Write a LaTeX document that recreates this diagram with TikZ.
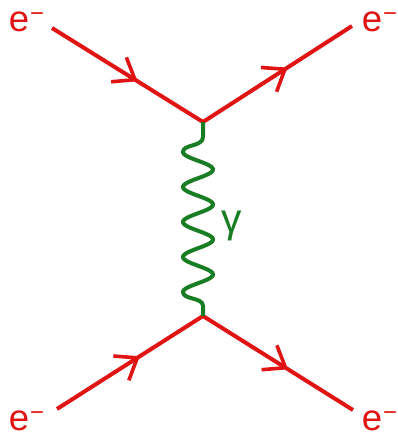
\documentclass[tikz,border=0pt]{standalone}
\usepackage{fontspec}
\setmainfont{Liberation Sans}
\usetikzlibrary{arrows.meta, decorations.markings}

\newcommand{\elabel}{e\kern0.03em\raisebox{0.28em}{\fontsize{17}{17}\selectfont −}}

\begin{document}
\begin{tikzpicture}[x=0.025cm, y=-0.025cm,
    fermion/.style={line width=0.1cm, elec, postaction={decorate},
        decoration={markings, mark=at position 0.55 with {\draw[line width=0.09cm] (-0.48cm,0.36cm) -- (0,0) -- (-0.48cm,-0.36cm);}}},
    photon/.style={line width=0.1cm, phot, line join=round},
    lbl/.style={inner sep=0pt, anchor=base west, font=\fontsize{26}{26}\selectfont}]
    % Colores
    \definecolor{elec}{RGB}{225,20,20}
    \definecolor{phot}{RGB}{25,125,35}

    \useasboundingbox (0,0) rectangle (397,433);

    % Vertices
    \coordinate (vtop) at (203,122);
    \coordinate (vbot) at (203,316);

    % Extremos de las lineas
    \coordinate (inA) at (52,28);
    \coordinate (outA) at (352,26);
    \coordinate (inB) at (57,409);
    \coordinate (outB) at (353,410);

    % Etiquetas
    \node[lbl, elec] (eTL) at (8.5,31.5) {\elabel};
    \node[lbl, elec] (eTR) at (361.5,31.5) {\elabel};
    \node[lbl, elec] (eBL) at (8.5,430.5) {\elabel};
    \node[lbl, elec] (eBR) at (361.5,430.5) {\elabel};
    \node[phot, inner sep=0pt, font=\fontsize{29}{29}\selectfont] (gam) at (232,226) {γ};

    % Electrones
    \draw[fermion] (inA) -- (vtop);
    \draw[fermion] (vtop) -- (outA);
    \draw[fermion] (inB) -- (vbot);
    \draw[fermion] (vbot) -- (outB);

    % Foton
    \draw[photon] (vtop) -- (203,137) .. controls (203,147) and (183,144) .. (183,152)
        -- plot[domain=0:1440, samples=145, variable=\p] ({198-15*cos(\p)}, {152+\p/360*35})
        .. controls (183,300) and (203,297) .. (203,306) -- (vbot);
\end{tikzpicture}
\end{document}
